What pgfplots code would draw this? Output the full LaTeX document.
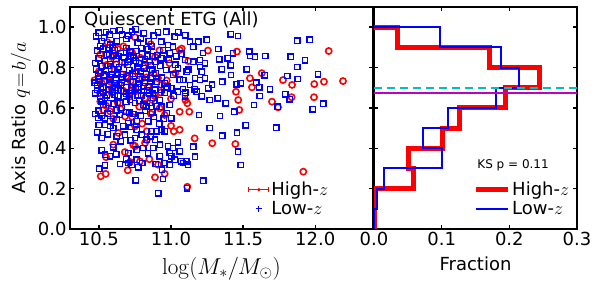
\RequirePackage{fix-cm}
\documentclass[border=0pt]{standalone}
\usepackage[no-math]{fontspec}
\setmainfont{DejaVu Sans}
\usepackage{pgfplots}
\pgfplotsset{compat=1.18}
\definecolor{mplcyan}{rgb}{0,0.75,0.75}
\definecolor{mplmag}{rgb}{0.75,0,0.75}
\newcommand\lbl{\fontsize{18}{21.6}\selectfont}
\pgfplotsset{
  myaxis/.style={
    scale only axis,
    ymin=0, ymax=1.1,
    ytick={0,0.2,0.4,0.6,0.8,1.0},
    tick align=inside,
    xtick pos=both, ytick pos=both,
    major tick length=4pt,
    major tick style={black, line width=1.4pt},
    axis line style={line width=1.8pt},
    tick label style={font=\lbl},
    label style={font=\lbl},
    xlabel style={yshift=-4pt},
    legend style={draw=none, fill=none, font=\lbl, legend cell align=left},
  },
  histlegend/.style={legend image code/.code={\draw[##1] (0pt,0pt) -- (32pt,0pt);}},
}
\begin{document}
\begin{tikzpicture}
\useasboundingbox (0,0) rectangle (600pt,-291pt);
\begin{axis}[myaxis, at={(70pt,-229pt)}, anchor=south west, width=303pt, height=222pt,
  xmin=10.3, xmax=12.4, xtick={10.5,11,11.5,12}, xticklabels={10.5,11.0,11.5,12.0},
  yticklabels={0.0,0.2,0.4,0.6,0.8,1.0},
  xlabel={\fontsize{23}{27}\selectfont$\log(M_*/M_\odot)$}, ylabel={Axis Ratio {\fontsize{20}{24}\selectfont$q\!=\!b/a$}},
  legend style={at={(rel axis cs:0.578,0.135)}, anchor=west}]
\addlegendimage{legend image code/.code={\draw[red,line width=1pt] (0pt,0pt)--(20pt,0pt) (0pt,-2.5pt)--(0pt,2.5pt) (20pt,-2.5pt)--(20pt,2.5pt); \fill[red] (10pt,0pt) circle (1.5pt);}}
\addlegendentry{High-$z$}
\addlegendimage{legend image code/.code={\draw[blue,line width=1pt] (7pt,0pt)--(13pt,0pt) (10pt,-3pt)--(10pt,3pt);}}
\addlegendentry{Low-$z$}
% High-z (red circles)
\addplot[only marks, mark=o, red, mark size=3.1pt, mark options={line width=1.6pt}, forget plot] coordinates {
(12.093,0.882) (12.192,0.733) (12.060,0.730) (11.993,0.718) (11.991,0.653) (11.839,0.714) (11.776,0.738) (11.836,0.653) (11.742,0.603) (11.700,0.631) (11.629,0.772) (11.547,0.747) (11.561,0.702) (11.457,0.879) (11.256,0.884) (11.466,0.639) (11.473,0.590) (11.450,0.680) (11.286,0.425) (11.446,0.421) (11.164,0.449) (11.113,0.623) (11.127,0.581) (11.074,0.894) (11.120,0.832) (11.917,0.284) (11.113,0.209) (11.060,0.492) (11.019,0.484) (10.956,0.274) (10.513,0.261) (10.547,0.273) (10.716,0.332) (10.785,0.335) (10.889,0.256)
(10.508,0.674) (10.589,0.674) (10.577,0.583) (10.681,0.558) (10.751,0.509) (10.820,0.649) (10.866,0.641) (10.889,0.658) (10.832,0.484) (10.832,0.442) (10.635,0.476) (10.600,0.418) (10.751,0.410) (10.820,0.426)
(11.060,0.887) (10.921,0.598) (10.956,0.565) (10.933,0.714) (10.910,0.747) (11.060,0.581) (10.910,0.319)
(10.56,0.925) (10.67,0.905) (10.75,0.95) (10.86,0.915)
(10.51,0.865) (10.59,0.852) (10.63,0.893) (10.68,0.822) (10.73,0.875) (10.79,0.848) (10.85,0.831) (10.92,0.885) (10.55,0.812) (10.62,0.816) (10.71,0.842) (10.81,0.806) (10.89,0.852) (10.99,0.821)
(10.50,0.781) (10.54,0.756) (10.58,0.731) (10.61,0.788) (10.64,0.722) (10.69,0.757) (10.72,0.733) (10.76,0.779) (10.80,0.746) (10.84,0.707) (10.88,0.771) (10.52,0.722) (10.60,0.706) (10.66,0.766) (10.74,0.704) (10.83,0.751) (10.97,0.736) (11.03,0.772) (10.47,0.737)
(10.51,0.632) (10.55,0.611) (10.59,0.695) (10.63,0.626) (10.67,0.685) (10.71,0.655) (10.75,0.681) (10.78,0.606) (10.93,0.676) (11.00,0.645) (11.10,0.639)
(10.531,0.590) (10.60,0.546) (10.65,0.595) (10.73,0.556) (10.80,0.522) (10.86,0.571) (11.00,0.511)
(10.739,0.416) (10.55,0.356) (10.68,0.381) (10.85,0.346) (10.70,0.291)
};
% Low-z (blue squares)
\addplot[only marks, mark=square, blue, mark size=2.7pt, mark options={line width=1.4pt}, forget plot] coordinates {
(11.414,0.965) (11.464,0.956) (11.875,0.933) (11.961,0.937)
(11.328,0.892) (11.543,0.879) (11.582,0.854) (11.654,0.857) (11.548,0.857) (11.830,0.854) (11.929,0.836) (11.875,0.803) (11.414,0.811) (11.335,0.841) (11.393,0.846) (11.430,0.871)
(11.525,0.791) (11.351,0.791) (11.649,0.762) (11.806,0.758) (11.878,0.743) (12.019,0.767) (11.591,0.725) (11.612,0.702) (11.483,0.722) (11.455,0.717) (11.356,0.730) (11.416,0.763) (11.284,0.715)
(11.686,0.692) (11.792,0.667) (11.615,0.659) (11.324,0.648) (11.379,0.623) (11.575,0.614) (11.739,0.606) (11.823,0.643) (12.056,0.621) (11.268,0.639) (11.164,0.692)
(11.439,0.581) (11.982,0.593) (11.340,0.560) (11.194,0.565) (11.518,0.514) (11.730,0.502) (11.268,0.500)
(11.356,0.462) (11.457,0.477) (11.155,0.408) (11.048,0.430) (10.979,0.410) (11.014,0.401)
(11.464,0.383) (11.166,0.358) (11.060,0.385) (10.991,0.377) (11.002,0.360) (11.026,0.343) (11.071,0.335) (11.083,0.327) (11.118,0.319) (11.106,0.335) (10.991,0.319) (10.956,0.327) (10.922,0.360) (10.543,0.316) (10.647,0.322) (10.704,0.327) (10.728,0.319) (10.773,0.306) (10.801,0.327) (10.762,0.343) (10.894,0.322) (11.483,0.317)
(10.755,0.241) (11.224,0.239) (10.945,0.248) (10.503,0.299) (10.938,0.294) (11.111,0.202) (10.912,0.177)
(10.508,0.658) (10.543,0.649) (10.566,0.624) (10.520,0.633) (10.647,0.624) (10.658,0.600) (10.716,0.641) (10.751,0.624) (10.808,0.616) (10.854,0.624) (10.877,0.649) (10.901,0.608)
(10.496,0.550) (10.543,0.550) (10.577,0.534) (10.624,0.542) (10.669,0.509) (10.704,0.525) (10.762,0.534) (10.762,0.492) (10.843,0.534) (10.866,0.484) (10.901,0.484) (10.543,0.517) (10.600,0.500)
(10.520,0.451) (10.624,0.459) (10.681,0.467) (10.751,0.451) (10.797,0.467) (10.832,0.442) (10.889,0.442)
(10.543,0.368) (10.577,0.360) (10.704,0.377) (10.762,0.393) (10.808,0.401) (10.877,0.401) (10.924,0.418)
(10.967,0.978) (11.026,0.953) (10.933,0.928) (10.979,0.912) (11.014,0.903) (10.991,0.871) (11.037,0.855) (10.933,0.846) (10.967,0.788) (11.049,0.796) (10.956,0.722) (11.060,0.740) (10.933,0.689) (11.002,0.697) (11.049,0.681) (10.921,0.639) (10.991,0.614) (10.933,0.606) (11.002,0.548) (10.933,0.492) (10.956,0.484)
(11.083,0.694) (11.097,0.837) (11.155,0.829) (11.109,0.779) (11.166,0.747) (11.085,0.738) (11.132,0.714) (11.178,0.681) (11.097,0.657) (11.222,0.872) (11.201,0.837) (11.236,0.822) (11.201,0.803)
(11.247,0.937) (11.189,0.928) (11.132,0.928) (11.155,0.903) (11.213,0.779) (11.201,0.738) (11.236,0.747) (11.259,0.697) (11.213,0.657)
(10.50,0.972) (10.55,0.976) (10.60,0.981) (10.66,0.963) (10.73,0.977) (10.81,0.969) (10.88,0.958) (10.52,0.932) (10.58,0.913) (10.69,0.941) (10.77,0.924)
(10.49,0.884) (10.53,0.893) (10.57,0.868) (10.61,0.886) (10.65,0.872) (10.69,0.897) (10.72,0.858) (10.76,0.882) (10.80,0.866) (10.84,0.891) (10.87,0.857) (10.50,0.846) (10.54,0.832) (10.58,0.818) (10.62,0.843) (10.66,0.827) (10.70,0.813) (10.74,0.848) (10.78,0.822) (10.82,0.841) (10.89,0.828) (10.52,0.806) (10.64,0.803) (10.77,0.801) (10.60,0.861) (10.86,0.812)
(10.48,0.792) (10.51,0.773) (10.55,0.787) (10.59,0.764) (10.63,0.791) (10.67,0.768) (10.71,0.786) (10.75,0.758) (10.79,0.782) (10.83,0.767) (10.87,0.789) (10.50,0.744) (10.54,0.733) (10.58,0.752) (10.62,0.738) (10.66,0.723) (10.70,0.746) (10.74,0.728) (10.78,0.741) (10.82,0.724) (10.86,0.747) (10.90,0.729) (10.49,0.711) (10.53,0.703) (10.57,0.716) (10.61,0.701) (10.65,0.712) (10.69,0.704) (10.77,0.702) (10.85,0.706)
(10.49,0.689) (10.53,0.678) (10.57,0.694) (10.61,0.664) (10.65,0.686) (10.69,0.671) (10.73,0.688) (10.77,0.663) (10.81,0.684) (10.85,0.672) (10.89,0.691) (10.63,0.658)
(10.50,0.586) (10.56,0.571) (10.62,0.589) (10.71,0.576) (10.79,0.561) (10.87,0.579) (10.92,0.521) (10.95,0.546)
(10.48,0.955) (10.535,0.948) (10.575,0.962) (10.625,0.930) (10.645,0.985) (10.705,0.958) (10.755,0.990) (10.79,0.945) (10.845,0.930) (10.91,0.975) (10.865,0.905) (11.05,0.975) (11.10,0.960)
(10.51,0.905) (10.555,0.862) (10.595,0.898) (10.635,0.857) (10.675,0.848) (10.715,0.878) (10.755,0.833) (10.795,0.895) (10.835,0.855) (10.905,0.862) (10.945,0.885) (10.985,0.838) (11.03,0.815) (11.07,0.868) (10.475,0.823) (10.565,0.808) (10.705,0.828) (10.925,0.810)
(10.495,0.757) (10.535,0.765) (10.575,0.742) (10.615,0.722) (10.655,0.752) (10.695,0.728) (10.735,0.770) (10.775,0.720) (10.815,0.797) (10.855,0.728) (10.895,0.772) (10.935,0.750) (10.975,0.705) (11.015,0.765) (11.12,0.790) (10.47,0.725) (10.63,0.772) (10.81,0.708)
(10.475,0.672) (10.515,0.695) (10.555,0.662) (10.595,0.680) (10.635,0.690) (10.675,0.655) (10.715,0.672) (10.755,0.695) (10.795,0.660) (10.835,0.688) (10.875,0.670) (10.955,0.675) (11.02,0.660) (11.10,0.675) (10.53,0.615) (10.60,0.620) (10.69,0.630) (10.78,0.635) (10.83,0.605)
(10.475,0.570) (10.52,0.560) (10.585,0.595) (10.645,0.565) (10.69,0.580) (10.74,0.570) (10.82,0.585) (10.88,0.555) (10.50,0.515) (10.58,0.510) (10.72,0.505) (10.97,0.575)
(10.49,0.480) (10.56,0.470) (10.65,0.435) (10.72,0.440) (10.86,0.460) (10.60,0.405)
(10.52,0.390) (10.62,0.370) (10.69,0.345) (10.84,0.375)
};
\node[anchor=north west, inner sep=0pt, font=\lbl] at (rel axis cs:0.046,0.981) {Quiescent ETG (All)};
\end{axis}
\begin{axis}[myaxis, histlegend, at={(374pt,-229pt)}, anchor=south west, width=203pt, height=222pt,
  xmin=0, xmax=0.3, xtick={0,0.1,0.2,0.3}, xticklabels={0.0,0.1,0.2,0.3},
  yticklabels={}, xlabel={Fraction},
  legend style={at={(rel axis cs:0.473,0.135)}, anchor=west}]
\addplot[red, line width=5pt, line join=miter] coordinates {
(0,0) (0,0.2) (0.059,0.2) (0.059,0.3) (0.051,0.3) (0.051,0.4) (0.101,0.4) (0.101,0.5) (0.127,0.5) (0.127,0.6) (0.194,0.6) (0.194,0.7) (0.245,0.7) (0.245,0.8) (0.170,0.8) (0.170,0.9) (0.035,0.9) (0.035,1.0) (0,1.0)};
\addlegendentry{High-$z$}
\addplot[blue, line width=2pt, line join=miter] coordinates {
(0,0) (0,0.1) (0.004,0.1) (0.004,0.2) (0.015,0.2) (0.015,0.3) (0.101,0.3) (0.101,0.4) (0.072,0.4) (0.072,0.5) (0.109,0.5) (0.109,0.6) (0.180,0.6) (0.180,0.7) (0.215,0.7) (0.215,0.8) (0.188,0.8) (0.188,0.9) (0.097,0.9) (0.097,1.0) (0,1.0)};
\addlegendentry{Low-$z$}
\addplot[mplcyan, line width=2pt, dash pattern=on 8pt off 5pt, forget plot] coordinates {(0,0.701) (0.3,0.701)};
\addplot[mplmag, line width=2pt, forget plot] coordinates {(0,0.675) (0.3,0.675)};
\node[font=\fontsize{12}{14}\selectfont] at (rel axis cs:0.685,0.288) {KS p = 0.11};
\end{axis}
\end{tikzpicture}
\end{document}
